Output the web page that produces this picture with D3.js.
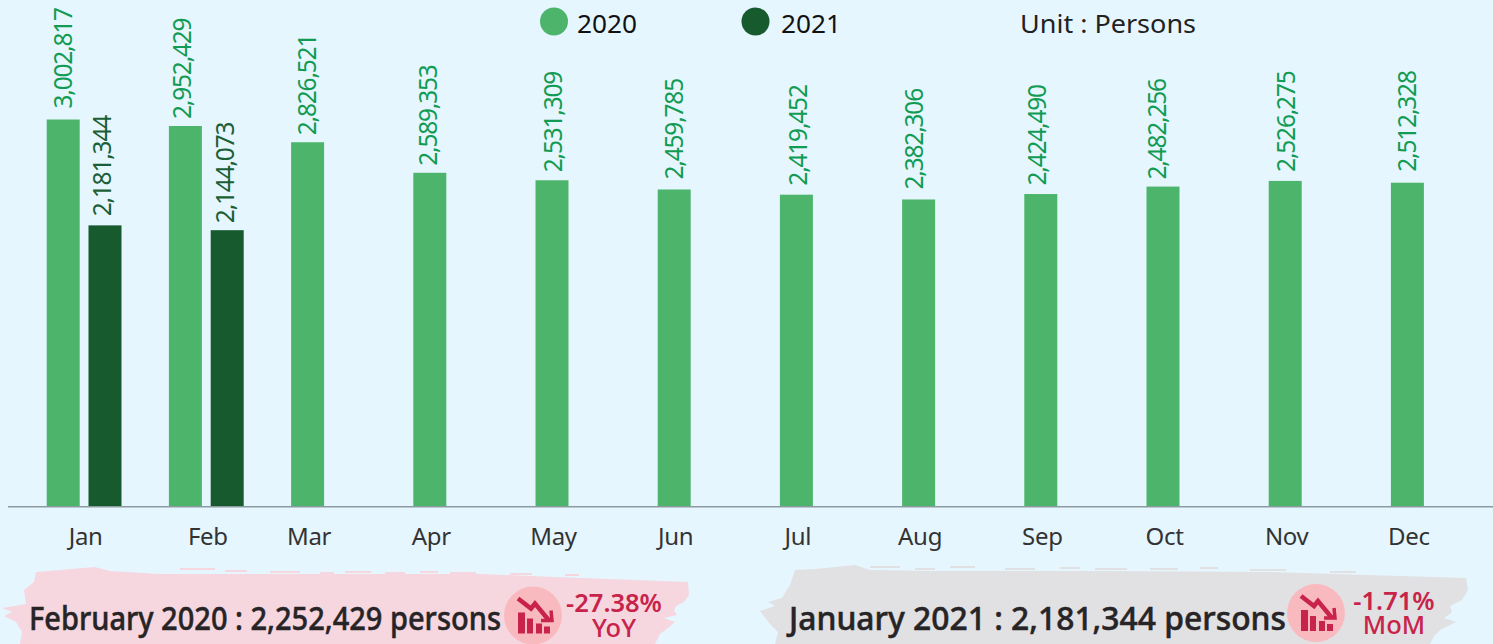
<!DOCTYPE html>
<html><head><meta charset="utf-8">
<script src="https://cdn.jsdelivr.net/npm/d3@7/dist/d3.min.js"></script>
<style>html,body{margin:0;padding:0;background:#e6f6ff;overflow:hidden}svg{display:block}text{font-family:"Noto Sans",sans-serif}</style>
</head><body><svg id="c" width="1493" height="644"></svg>
<script>
const months=["Jan","Feb","Mar","Apr","May","Jun","Jul","Aug","Sep","Oct","Nov","Dec"];
const series=["2020","2021"];
const values2020=[3002817,2952429,2826521,2589353,2531309,2459785,2419452,2382306,2424490,2482256,2526275,2512328];
const values2021=[2181344,2144073,null,null,null,null,null,null,null,null,null,null];
const barColors=["#4db56b","#175a2e"];
const labelColors=["#129b52","#1a5f35"];
// small per-label nudges of the value labels, as placed in the reference
const labelGap=[[11,7,7,7,8,10,9,10,8.5,7,9,11],[9,7]];
const labelDx=[[0,-3.7,-1,-2,1.4,-0.7,1.4,-5,-3.8,-5.8,0.3,0],[-3.3,-2]];
const brushPink=[[36,572],[60,570],[95,567],[110,571],[160,574],[300,574],[480,574],[555,577],[688,582],[689,595],[684,602],[676,606],[674,611],[677,615],[664,618],[675,622],[668,628],[660,634],[655,644],[20,644],[22,632],[16,622],[4,616],[12,612],[2,608],[26,604],[24,590],[34,582]];
const brushGrey=[[795,570],[815,569],[855,565],[870,570],[930,571],[1100,571],[1270,572],[1400,576],[1466,578],[1468,590],[1462,600],[1450,606],[1452,612],[1444,618],[1456,622],[1440,630],[1434,636],[1430,644],[775,644],[778,632],[770,624],[760,611],[775,606],[768,602],[782,598],[790,585]];
const streaksPink=[[180,568,35],[225,570,22],[270,571,30],[320,572,14],[345,571,26],[385,572,20],[420,571,18],[450,572,26],[510,573,22],[565,574,14]];
const streaksGrey=[[870,566,30],[915,568,20],[950,566,25],[1005,568,30],[1060,567,20],[1095,568,32],[1150,568,28],[1200,567,18],[1250,569,36],[1330,571,26]];
const kpis=[{t:"February 2020 : 2,252,429 persons",x:29,w:472,cx:533,cy:615.5,a:"-27.38%",b:"YoY",tx:614,ty:612,ty2:637},
            {t:"January 2021 : 2,181,344 persons",x:789,w:497,cx:1316,cy:613,a:"-1.71%",b:"MoM",tx:1394,ty:610,ty2:634}];

const svg=d3.select("#c");
const x0=d3.scaleBand().domain(months).range([23,1489.4]);
const x1=d3.scaleBand().domain(series).range([23.7,98.5]).paddingInner(0.2105);
const barW=x1.bandwidth();
const y=d3.scaleLinear().domain([0,3002817]).range([506.5,119.5]);
const line=d3.line().curve(d3.curveLinearClosed);

svg.append("path").attr("d",line(brushPink)).attr("fill","#f6d7df");
svg.append("path").attr("d",line(brushGrey)).attr("fill","#e1e0e2");
[[streaksPink,"#f6d7df"],[streaksGrey,"#e1e0e2"]].forEach(([a,c])=>{
  svg.append("g").selectAll("rect").data(a).join("rect")
    .attr("x",d=>d[0]).attr("y",d=>d[1]).attr("width",d=>d[2]).attr("height",2).attr("fill",c);
});

[values2020,values2021].forEach((vals,si)=>{
  const g=svg.append("g");
  const data=months.map((m,i)=>({m,i,v:vals[i]})).filter(d=>d.v!=null);
  const bx=d=>x0(d.m)+x1(series[si]);
  g.selectAll("rect").data(data).join("rect")
    .attr("x",bx).attr("width",barW).attr("y",d=>y(d.v)).attr("height",d=>y(0)-y(d.v))
    .attr("fill",barColors[si]);
  g.selectAll("text").data(data).join("text")
    .attr("transform",d=>`translate(${bx(d)+barW/2+9+labelDx[si][d.i]},${y(d.v)-labelGap[si][d.i]}) rotate(-90)`)
    .attr("fill",labelColors[si]).attr("font-size",24.5).style("letter-spacing","-1.2px")
    .text(d=>d3.format(",")(d.v));
});

svg.append("line").attr("x1",8).attr("x2",1493).attr("y1",y(0)+.3).attr("y2",y(0)+.3).attr("stroke","#8b9ba0").attr("stroke-width",1.6);

const centers=months.map((m,i)=>{
  const a=x0(m)+x1(series[0])+barW/2, b=x0(m)+x1(series[1])+barW/2;
  return values2021[i]!=null?(a+b)/2+1:a+1;
});
const xLab=d3.scaleOrdinal().domain(months).range(centers);
const ax=svg.append("g").attr("transform","translate(0,518)").call(d3.axisBottom(xLab).tickSize(0));
ax.select(".domain").remove();
ax.selectAll("text").attr("font-size",24).attr("fill","#333").attr("dy",0).attr("y",27).style("font-family",'"Noto Sans",sans-serif').style("letter-spacing","-0.3px");

const legendX=[554,755.5], legendTextX=[577,781];
series.forEach((s,i)=>{
  svg.append("circle").attr("cx",legendX[i]).attr("cy",21.5).attr("r",14).attr("fill",barColors[i]);
  svg.append("text").attr("x",legendTextX[i]).attr("y",33).attr("font-size",26).attr("fill","#111").attr("textLength",60).attr("lengthAdjust","spacingAndGlyphs").text(s);
});
svg.append("text").attr("x",1020).attr("y",33).attr("font-size",26).attr("fill","#222").attr("textLength",176).attr("lengthAdjust","spacingAndGlyphs").text("Unit : Persons");

const red="#c8234a";
kpis.forEach(k=>{
  svg.append("text").attr("x",k.x).attr("y",630).attr("font-size",32).attr("font-weight",500).attr("fill","#262426")
    .attr("stroke","#262426").attr("stroke-width",.5)
    .attr("textLength",k.w).attr("lengthAdjust","spacingAndGlyphs").text(k.t);
  const g=svg.append("g").attr("transform",`translate(${k.cx},${k.cy})`);
  g.append("ellipse").attr("rx",29).attr("ry",29).attr("fill","#f9babf");
  [[-15,-3,7,21],[-6,3,6,15],[3,8,6,10],[11,11,6,7]].forEach(r=>g.append("rect").attr("x",r[0]).attr("y",r[1]).attr("width",r[2]).attr("height",r[3]).attr("fill",red));
  g.append("path").attr("d","M-15,-17L-2,-7L2,-12L16,5").attr("fill","none").attr("stroke",red).attr("stroke-width",4.5);
  g.append("path").attr("d","M8,5L19,5L18,-5").attr("fill","none").attr("stroke",red).attr("stroke-width",3.5);
  svg.append("text").attr("x",k.tx).attr("y",k.ty).attr("text-anchor","middle").attr("font-size",25.5).attr("font-weight",600).attr("fill",red).text(k.a);
  svg.append("text").attr("x",k.tx).attr("y",k.ty2).attr("text-anchor","middle").attr("font-size",25.5).attr("font-weight",500).attr("fill",red).text(k.b);
});
</script></body></html>
